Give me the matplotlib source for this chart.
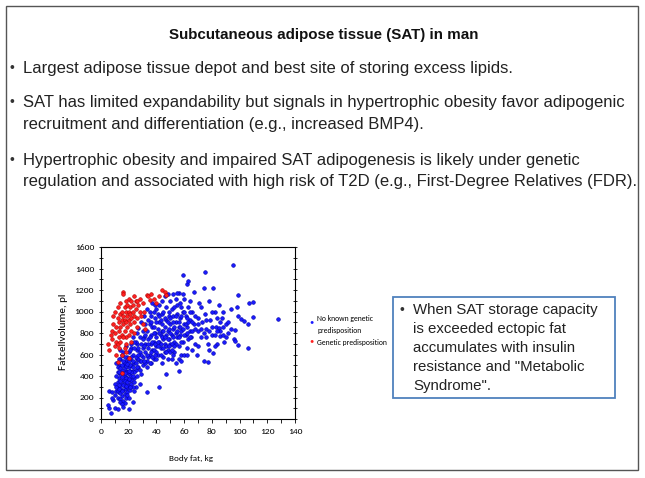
import matplotlib
matplotlib.use('Agg')
import matplotlib.pyplot as plt
from matplotlib.patches import Rectangle

calibri = ['Carlito', 'DejaVu Sans']
arial = ['Liberation Sans', 'DejaVu Sans']
plt.rcParams['font.family'] = calibri

# Blue: no known genetic predisposition (body fat kg, fat cell volume pl)
blue_x = [9, 10, 11, 12, 12, 13, 13, 14, 14, 15, 15, 15, 16, 16, 16, 17, 17, 17, 18, 18,
          18, 18, 19, 19, 19, 20, 20, 20, 21, 21, 21, 22, 22, 22, 23, 23, 24, 24, 25, 25,
          26, 26, 12, 13, 14, 11, 10, 12, 14, 16, 17, 18, 19, 20, 15, 16, 17, 13, 14, 19,
          21, 22, 23, 24, 18, 17, 19, 20, 22, 23, 12, 11, 13, 15, 16, 17, 14, 18,
          7, 6, 5, 10, 12, 8, 6, 8, 14, 15, 16, 20, 23, 33, 42, 47, 56, 28, 26, 27, 29,
          27, 28, 29, 30, 30, 31, 32, 32, 33, 33, 34, 34, 35, 35, 36, 36, 37, 37, 38, 38,
          39, 39, 40, 40, 41, 41, 42, 42, 43, 43, 44, 44, 45, 45, 46, 46, 47, 47, 48, 48,
          49, 49, 50, 50, 51, 51, 52, 52, 53, 53, 54, 54, 55, 55, 56, 56, 57, 57, 58, 58,
          59, 59, 60, 60, 61, 61, 62, 62, 63, 63, 64, 64,
          26, 28, 30, 32, 34, 36, 38, 40, 42, 44, 46, 48, 50, 52, 54, 56, 58, 30, 32, 34,
          36, 38, 40, 44, 46, 48, 50, 52, 54, 56, 58, 60, 25, 24, 27, 29, 31, 33, 35, 37,
          39, 41, 43, 45, 47, 49, 51, 53, 55, 57, 59, 62, 63, 59, 55,
          65, 66, 67, 68, 69, 70, 70, 71, 72, 73, 74, 74, 75, 75, 76, 77, 77, 78, 79, 80,
          81, 81, 82, 83, 84, 85, 85, 86, 87, 88, 89, 90, 92, 94, 95, 96, 97, 97, 98, 99,
          99, 99, 101, 103, 106, 106, 107, 110, 110, 128, 66, 68, 72, 76, 80, 84, 88, 66,
          70, 78, 82, 86, 64, 67, 62,
          21, 22, 23, 24, 25, 26, 27, 28, 29, 30, 31, 32, 33, 34, 35, 36, 37, 38, 39, 40,
          41, 42, 43, 44, 45, 46, 47, 48, 49, 50, 51, 52, 53, 54, 55, 56, 57, 58, 59, 60,
          61, 62, 63, 64,
          20, 21, 22, 23, 24, 25, 26, 27, 28, 29, 31, 33, 35, 37, 39, 41, 43, 45, 47, 49,
          51, 53,
          11, 12, 13, 14, 15, 16, 17, 18, 19, 20, 21, 22, 23, 24, 13, 14, 15, 16, 17, 18,
          19, 20,
          36, 38, 40, 42, 44, 46, 48, 50, 52, 54, 56, 58, 60, 62, 64, 66, 68, 70, 72, 74,
          76, 78, 80, 82, 84, 86, 88, 90, 92, 94]
blue_y = [180, 220, 260, 300, 340, 250, 380, 290, 420, 330, 210, 460, 270, 360, 500, 310, 230, 400, 340, 280,
          450, 540, 300, 380, 250, 420, 320, 480, 360, 560, 270, 400, 330, 500, 450, 600, 380, 520, 300, 460,
          560, 640, 440, 500, 560, 400, 330, 200, 190, 170, 150, 200, 220, 200, 390, 430, 470, 320, 350, 440,
          450, 360, 300, 260, 380, 520, 580, 620, 660, 540, 480, 520, 560, 600, 620, 580, 640, 680,
          60, 100, 130, 100, 90, 200, 260, 250, 160, 140, 110, 90, 160, 250, 300, 420, 450, 330, 400, 480, 420,
          560, 620, 700, 580, 660, 760, 620, 700, 540, 820, 660, 740, 600, 880, 700, 780, 640, 860, 720, 560,
          800, 940, 680, 760, 840, 600, 720, 900, 780, 660, 820, 980, 740, 580, 860, 700, 780, 920, 640, 820,
          740, 1000, 880, 700, 780, 560, 840, 960, 720, 620, 800, 900, 1060, 760, 680, 860, 940, 780, 820, 600,
          1000, 720, 880, 1120, 780, 960, 660, 860, 1040, 740, 920, 820,
          700, 760, 820, 880, 920, 960, 1000, 1020, 1060, 1100, 1140, 1160, 1100, 1160, 1120, 1170, 1040, 500, 520, 580,
          520, 640, 560, 520, 620, 560, 620, 600, 520, 560, 540, 600, 720, 660, 850, 900, 960, 1020, 1000, 1080,
          1060, 980, 920, 1000, 1040, 960, 1020, 1040, 980, 1080, 1160, 1260, 1280, 1340, 1170,
          760, 1000, 880, 700, 600, 940, 820, 1080, 760, 900, 1220, 540, 1370, 980, 840, 530, 700, 1100, 920, 780,
          1220, 610, 1000, 860, 700, 1060, 850, 770, 940, 860, 720, 880, 800, 1020, 1430, 740, 730, 830, 1040, 690,
          960, 1150, 930, 910, 880, 660, 1080, 1090, 950, 930, 820, 960, 1040, 920, 1000, 940, 1000, 640,
          680, 640, 680, 820, 1100, 1180, 600,
          640, 700, 760, 720, 580, 800, 660, 540, 600, 740, 680, 780, 600, 700, 760, 620, 720, 800, 700, 620,
          720, 800, 700, 760, 820, 760, 680, 740, 840, 800, 700, 760, 860, 700, 820, 760, 860, 720, 840, 780,
          880, 800, 900, 760,
          540, 500, 580, 480, 440, 520, 480, 600, 460, 540, 540, 480, 520, 580, 600, 680, 600, 660, 620, 680,
          640, 680,
          300, 260, 280, 240, 260, 320, 350, 310, 340, 370, 300, 440, 400, 340, 440, 470, 500, 540, 430, 490,
          510, 450,
          900, 860, 900, 960, 880, 940, 900, 940, 900, 960, 900, 960, 1000, 940, 1000, 900, 840, 880, 840, 800,
          760, 820, 860, 780, 820, 900, 780, 760, 900, 840]

# Red: genetic predisposition (first-degree relatives)
red_x = [5, 6, 7, 8, 8, 9, 9, 10, 10, 11, 11, 12, 12, 13, 13, 13, 14, 14, 14, 15,
         15, 15, 16, 16, 16, 16, 17, 17, 17, 18, 18, 18, 18, 19, 19, 19, 20, 20, 20, 21,
         21, 21, 22, 22, 22, 23, 23, 24, 24, 24, 25, 25, 26, 26, 27, 28, 28, 29, 30, 31,
         33, 34, 35, 36, 38, 40, 42, 44, 46, 47, 26, 30, 32, 10, 12, 14, 16, 18, 20, 15,
         12, 15, 18, 20, 13, 17, 22, 24, 11]
red_y = [700, 640, 780, 820, 740, 880, 960, 800, 1000, 860, 720, 940, 1040, 900, 820, 760, 980, 860, 1080, 920,
         1000, 780, 1180, 1160, 880, 960, 1040, 820, 920, 1000, 900, 1100, 760, 960, 1060, 860, 1000, 920, 1120, 980,
         880, 1040, 1100, 940, 820, 1000, 1060, 900, 1140, 960, 1020, 1100, 940, 860, 1060, 1000, 1120, 960, 1080, 1000,
         1150, 1140, 1110, 1160, 1120, 1080, 1140, 1200, 1180, 1150, 1100, 880, 840, 680, 700, 720, 760, 700, 780, 430,
         530, 600, 620, 570, 660, 660, 720, 800, 600]

title = 'Subcutaneous adipose tissue (SAT) in man'
bullets = [
    ['Largest adipose tissue depot and best site of storing excess lipids.'],
    ['SAT has limited expandability but signals in hypertrophic obesity favor adipogenic',
     'recruitment and differentiation (e.g., increased BMP4).'],
    ['Hypertrophic obesity and impaired SAT adipogenesis is likely under genetic',
     'regulation and associated with high risk of T2D (e.g., First-Degree Relatives (FDR).'],
]
box_lines = ['When SAT storage capacity', 'is exceeded ectopic fat',
             'accumulates with insulin', 'resistance and "Metabolic', 'Syndrome".']

W, H = 645, 478
fig = plt.figure(figsize=(W / 100, H / 100), dpi=100)
renderer = fig.canvas.get_renderer()


def fx(px):
    return px / W


def fy(py):
    return 1 - py / H


def fit(t, target_px, vertical=False):
    # scale font so the text spans the size measured on the reference
    bb = t.get_window_extent(renderer=renderer)
    w = bb.height if vertical else bb.width
    size = t.get_fontsize() * target_px / w
    t.set_fontsize(size)
    return size


# slide frame
fig.patches.append(Rectangle((fx(6), fy(470)), fx(632), 464 / H, transform=fig.transFigure,
                             fill=False, edgecolor='#555555', linewidth=1.0))

t = fig.text(fx(324), fy(35), title, ha='center', va='center', fontsize=12,
             fontweight='bold', family=arial, color='#111111')
fit(t, 308)

line_y = [[68], [102, 124], [160, 182]]
probe = fig.text(0, 0, bullets[2][1], fontsize=11, family=arial)
bsize = fit(probe, 610)
probe.remove()
for lines, ys in zip(bullets, line_y):
    fig.text(fx(10), fy(ys[0]), '•', ha='left', va='center', fontsize=10, color='#333333',
             family=arial)
    for txt, yy in zip(lines, ys):
        fig.text(fx(23), fy(yy), txt, ha='left', va='center', fontsize=bsize, color='#222222',
                 family=arial)

# scatter plot
ax = fig.add_axes([fx(101), fy(419), fx(194), 172 / H])
ax.scatter(blue_x, blue_y, s=7, color='#1a1aff', edgecolors='#0000aa', linewidths=0.4, zorder=2)
ax.scatter(red_x, red_y, s=7, color='#ff2020', edgecolors='#b00000', linewidths=0.4, zorder=3)
ax.set_xlim(0, 140)
ax.set_ylim(0, 1600)
ax.set_xticks(range(0, 141, 20))
ax.set_xticks(range(0, 141, 10), minor=True)
ax.set_yticks(range(0, 1601, 200))
ax.set_yticks(range(0, 1601, 100), minor=True)
ax.tick_params(which='both', direction='inout', right=True, labelsize=6.8, length=3, width=0.6)
ax.tick_params(axis='x', which='both', direction='out')
for s in ax.spines.values():
    s.set_linewidth(0.8)
fig.text(fx(191), fy(458), 'Body fat, kg', fontsize=6.6, ha='center', va='center')
yl = fig.text(fx(63), fy(332), 'Fatcellvolume, pl', fontsize=7, ha='center', va='center',
              rotation=90)
fit(yl, 78, vertical=True)

# legend
fig.text(fx(312), fy(322), '•', color='#1a1aff', fontsize=6, ha='center', va='center')
fig.text(fx(317), fy(318), 'No known genetic', fontsize=5.5, ha='left', va='center')
fig.text(fx(317), fy(331), 'predisposition', fontsize=5.5, ha='left', va='center')
fig.text(fx(312), fy(341), '•', color='#ff2020', fontsize=6, ha='center', va='center')
lg = fig.text(fx(317), fy(343), 'Genetic predisposition', fontsize=5.5, ha='left', va='center')
fit(lg, 70)

# text box
fig.patches.append(Rectangle((fx(393), fy(398)), fx(222), 101 / H, transform=fig.transFigure,
                             fill=False, edgecolor='#4f81bd', linewidth=1.3))
box_y = [310, 329, 348, 367, 386]
fig.text(fx(400), fy(box_y[0]), '•', fontsize=10, ha='left', va='center',
         family=arial, color='#333333')
probe = fig.text(0, 0, box_lines[0], fontsize=11, family=arial)
xsize = fit(probe, 185)
probe.remove()
for txt, yy in zip(box_lines, box_y):
    fig.text(fx(413), fy(yy), txt, fontsize=xsize, ha='left', va='center',
             family=arial, color='#222222')

fig.savefig('out.png', dpi=100)
